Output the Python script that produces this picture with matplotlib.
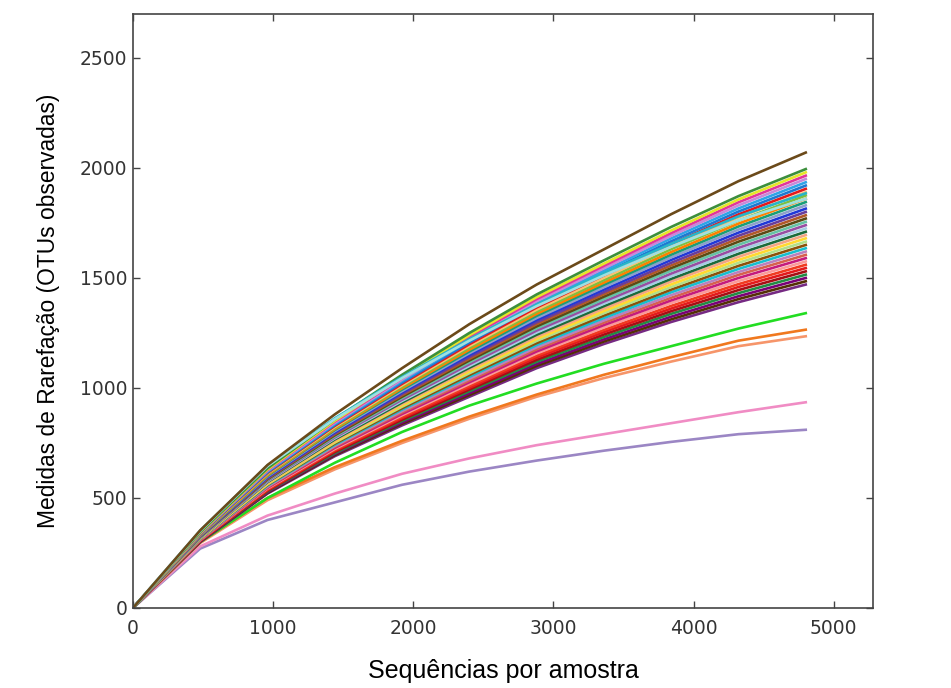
import matplotlib
matplotlib.use('Agg')
import matplotlib.pyplot as plt

# rarefaction depths (sequences per sample)
depths = [0, 480, 960, 1440, 1920, 2400, 2880, 3360, 3840, 4320, 4800]

# observed OTUs per depth, one row per sample (main bundle, lowest end first)
main_curves = [
    [0, 300, 520, 690, 830, 960, 1090, 1200, 1300, 1390, 1470],
    [0, 301, 523, 695, 837, 968, 1100, 1211, 1312, 1404, 1485],
    [0, 302, 526, 700, 843, 976, 1109, 1221, 1324, 1417, 1500],
    [0, 304, 530, 704, 850, 985, 1119, 1232, 1337, 1431, 1515],
    [0, 305, 533, 709, 856, 993, 1128, 1243, 1349, 1445, 1530],
    [0, 306, 536, 714, 863, 1001, 1138, 1254, 1361, 1459, 1545],
    [0, 307, 539, 718, 869, 1009, 1147, 1264, 1373, 1472, 1560],
    [0, 309, 543, 723, 876, 1018, 1157, 1275, 1386, 1486, 1575],
    [0, 310, 546, 728, 882, 1026, 1166, 1286, 1398, 1500, 1590],
    [0, 311, 549, 733, 889, 1034, 1176, 1297, 1410, 1514, 1605],
    [0, 312, 552, 737, 895, 1042, 1185, 1307, 1422, 1527, 1620],
    [0, 314, 556, 742, 902, 1051, 1195, 1318, 1435, 1541, 1635],
    [0, 315, 559, 747, 908, 1059, 1204, 1329, 1447, 1555, 1650],
    [0, 316, 562, 752, 915, 1067, 1214, 1340, 1459, 1569, 1665],
    [0, 317, 565, 756, 921, 1075, 1223, 1350, 1471, 1582, 1680],
    [0, 319, 569, 761, 928, 1084, 1233, 1361, 1484, 1596, 1695],
    [0, 320, 572, 766, 934, 1092, 1242, 1372, 1496, 1610, 1710],
    [0, 321, 575, 771, 941, 1100, 1252, 1383, 1508, 1624, 1725],
    [0, 322, 578, 775, 947, 1108, 1261, 1393, 1520, 1637, 1740],
    [0, 324, 582, 780, 954, 1117, 1271, 1404, 1533, 1651, 1755],
    [0, 325, 585, 785, 960, 1125, 1280, 1415, 1545, 1665, 1770],
    [0, 326, 588, 790, 967, 1133, 1290, 1426, 1557, 1679, 1785],
    [0, 327, 591, 794, 973, 1141, 1299, 1436, 1569, 1692, 1800],
    [0, 329, 595, 799, 980, 1150, 1309, 1447, 1582, 1706, 1815],
    [0, 330, 598, 804, 986, 1158, 1318, 1458, 1594, 1720, 1830],
    [0, 331, 601, 809, 993, 1166, 1328, 1469, 1606, 1734, 1845],
    [0, 332, 604, 813, 999, 1174, 1337, 1479, 1618, 1747, 1860],
    [0, 334, 608, 818, 1006, 1183, 1347, 1490, 1631, 1761, 1875],
    [0, 335, 611, 823, 1012, 1191, 1356, 1501, 1643, 1775, 1890],
    [0, 336, 614, 828, 1019, 1199, 1366, 1512, 1655, 1789, 1905],
    [0, 337, 617, 832, 1025, 1207, 1375, 1522, 1667, 1802, 1920],
    [0, 339, 621, 837, 1032, 1216, 1385, 1533, 1680, 1816, 1935],
    [0, 340, 624, 842, 1038, 1224, 1394, 1544, 1692, 1830, 1950],
    [0, 341, 627, 847, 1045, 1232, 1404, 1555, 1704, 1844, 1965],
    [0, 342, 630, 851, 1051, 1240, 1413, 1565, 1716, 1857, 1980],
    [0, 345, 635, 858, 1060, 1250, 1425, 1580, 1732, 1872, 1995],
    [0, 352, 648, 862, 1050, 1222, 1380, 1522, 1655, 1780, 1885],
    [0, 350, 645, 858, 1045, 1215, 1372, 1512, 1642, 1762, 1860],
    [0, 353, 650, 880, 1090, 1290, 1470, 1630, 1790, 1940, 2070],
]
main_colors = [
    '#762a83', '#543005', '#7a0177', '#238b45', '#a50f15', '#e31a1c',
    '#f03b20', '#fb9a99', '#c51b7d', '#d6604d', '#bc80bd', '#17becf',
    '#8c510a', '#b2df8a', '#ffd92f', '#f4a582', '#1b6b3a', '#a6cee3',
    '#984ea3', '#66c2a5', '#5b4a14', '#b15928', '#6a3d9a', '#2038d8',
    '#8da0cb', '#1a9e77', '#ff7f00', '#7fbf3f', '#fdbf6f', '#e41a1c',
    '#1f78d1', '#2fa4e7', '#c88ad8', '#e2369a', '#e6e629', '#3c8f3c',
    '#26b5c9', '#9fe0e0', '#6b4a1a',
]

# low-richness samples
green_low = [0, 300, 500, 660, 800, 920, 1020, 1110, 1190, 1270, 1340]
orange_low = [0, 300, 500, 640, 760, 870, 970, 1060, 1140, 1215, 1265]
salmon_low = [0, 295, 490, 630, 750, 860, 960, 1045, 1120, 1190, 1235]
pink_low = [0, 280, 420, 520, 610, 680, 740, 790, 840, 890, 935]
violet_low = [0, 270, 400, 480, 560, 620, 670, 715, 755, 790, 810]

fig = plt.figure(figsize=(9.51, 6.88), dpi=100)
ax = fig.add_axes([0.1398, 0.1163, 0.7782, 0.8634])

lw = 1.9
ax.plot(depths, violet_low, color='#9b86c4', lw=lw)
ax.plot(depths, pink_low, color='#f08cc4', lw=lw)
ax.plot(depths, salmon_low, color='#f6956a', lw=lw)
ax.plot(depths, orange_low, color='#f0781e', lw=lw)
ax.plot(depths, green_low, color='#22dd22', lw=lw)
for row, col in zip(main_curves, main_colors):
    ax.plot(depths, row, color=col, lw=lw)

ax.set_xlim(0, 5280)
ax.set_ylim(0, 2700)
ax.set_xticks([0, 1000, 2000, 3000, 4000, 5000])
ax.set_yticks([0, 500, 1000, 1500, 2000, 2500])

for s in ax.spines.values():
    s.set_color('#444444')
    s.set_linewidth(1.2)
ax.tick_params(direction='in', length=5, width=1, color='#444444',
               top=True, right=True, labelsize=13.5, labelcolor='#333333')
ax.tick_params(axis='x', pad=8)
ax.tick_params(axis='y', pad=4)
for lab in ax.get_xticklabels() + ax.get_yticklabels():
    lab.set_family('DejaVu Sans')

ax.set_xlabel('Sequências por amostra', family='Liberation Sans', fontsize=18, labelpad=15)
ax.set_ylabel('Medidas de Rarefação (OTUs observadas)', family='Liberation Sans',
              fontsize=16.4, labelpad=14)

fig.savefig('out.png', dpi=100)
